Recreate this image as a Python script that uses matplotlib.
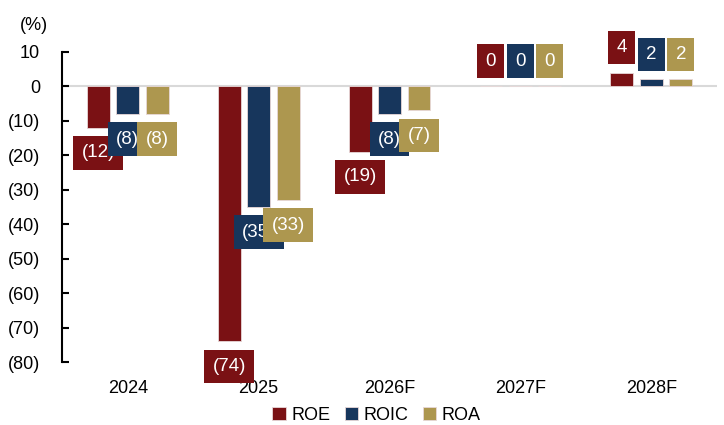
import numpy as np
from matplotlib import pyplot as plt

plt.rcParams['font.family'] = ['Liberation Sans', 'DejaVu Sans']

years = ['2024', '2025', '2026F', '2027F', '2028F']
roe = [-12, -74, -19, 0, 4]
roic = [-8, -35, -8, 0, 2]
roa = [-8, -33, -7, 0, 2]

series = [('ROE', roe, '#7a1114'), ('ROIC', roic, '#17365c'), ('ROA', roa, '#ad974f')]

fig = plt.figure(figsize=(7.24, 4.25), dpi=100)
ax = fig.add_axes([0.086, 0.148, 0.904, 0.73])

x = np.arange(len(years))
width = 0.175
step = 0.225

for i, (name, vals, color) in enumerate(series):
    pos = x + (i - 1) * step
    ax.bar(pos, vals, width, color=color, label=name, edgecolor='#e8d8d8', linewidth=0.6, zorder=2)
    # value labels in solid boxes just beyond the bar end
    for px, v in zip(pos, vals):
        txt = '(%d)' % abs(v) if v < 0 else '%d' % v
        ty = v - 7.3 if v < 0 else v + 7.3
        ax.text(px, ty, txt, ha='center', va='center', color='white', fontsize=13.5,
                bbox=dict(boxstyle='square,pad=0.44', facecolor=color, edgecolor='none'),
                zorder=3 + i)

ax.axhline(0, color='#d9d9d9', linewidth=1.5, zorder=1)
ax.set_xlim(-0.5, 4.5)
ax.set_ylim(-80, 10)
ax.set_yticks(np.arange(-80, 11, 10))
ax.set_yticklabels(['(%d)' % abs(t) if t < 0 else '%d' % t for t in range(-80, 11, 10)])
ax.set_xticks(x)
ax.set_xticklabels(years)
ax.tick_params(axis='y', direction='in', length=5, width=1.5, labelsize=13, pad=16)
ax.tick_params(axis='x', length=0, labelsize=13, pad=13)
for s in ['top', 'right', 'bottom']:
    ax.spines[s].set_visible(False)
ax.spines['left'].set_linewidth(1.5)

fig.text(0.028, 0.94, '(%)', fontsize=13, ha='left', va='center')
fig.legend(loc='lower center', bbox_to_anchor=(0.52, -0.035), ncol=3, frameon=False,
           fontsize=13, handlelength=0.75, handleheight=0.75, handletextpad=0.3, columnspacing=0.8)

plt.savefig('out.png')
